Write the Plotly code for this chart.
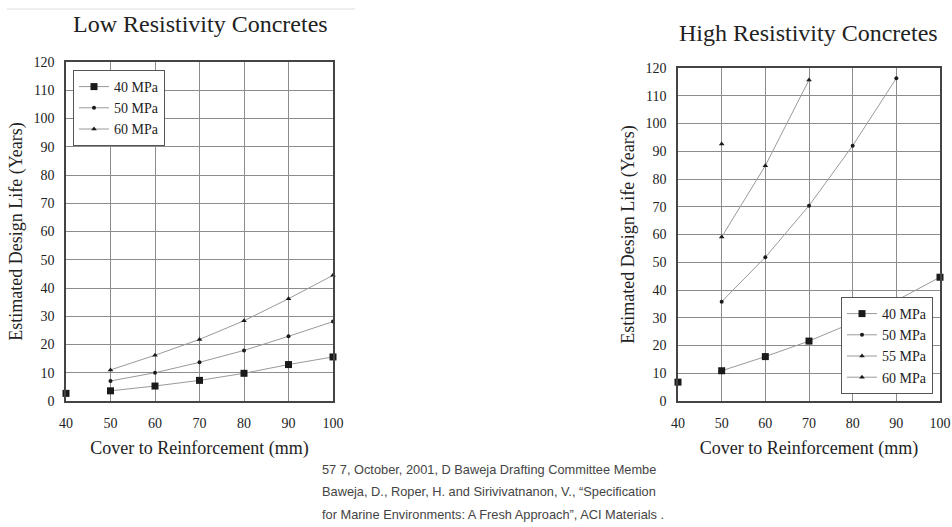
import plotly.graph_objects as go

# Cover depths (mm)
cover = [40, 50, 60, 70, 80, 90, 100]

# Low resistivity concretes: estimated design life (years)
low_40 = [2.7, 3.6, 5.3, 7.3, 9.8, 12.9, 15.6]
low_50 = [None, 7.1, 10.0, 13.7, 17.9, 22.9, 28.1]
low_60 = [None, 11.0, 16.2, 21.8, 28.4, 36.2, 44.5]

# High resistivity concretes: estimated design life (years)
high_40 = [6.8, 10.9, 16.0, 21.6, 28.2, 36.2, 44.6]
high_50 = [None, 35.8, 51.8, 70.4, 92.0, 116.3, None]
high_55 = [None, 59.1, 84.8, 115.7, None, None, None]
high_60 = [None, 92.6, None, None, None, None, None]

x_ticks = [40, 50, 60, 70, 80, 90, 100]
y_ticks = [0, 10, 20, 30, 40, 50, 60, 70, 80, 90, 100, 110, 120]

SERIF = "Liberation Serif"
LINE = "#9a9a9a"
INK = "#1a1a1a"

marker_style = {
    "40 MPa": dict(symbol="square", size=7),
    "50 MPa": dict(symbol="circle", size=4),
    "55 MPa": dict(symbol="triangle-up", size=5),
    "60 MPa": dict(symbol="triangle-up", size=5),
}

fig = go.Figure()


def add_series(name, ys, xaxis, yaxis, legend, first_alone=False):
    m = dict(color=INK, **marker_style[name])
    xs, vals = list(cover), list(ys)
    if first_alone:
        # the 40 mm point is plotted on its own, without a connecting line
        fig.add_trace(go.Scatter(
            x=xs[:1], y=vals[:1], mode="markers", marker=m,
            xaxis=xaxis, yaxis=yaxis, showlegend=False, legend=legend,
            cliponaxis=False, hoverinfo="skip"))
        xs, vals = xs[1:], vals[1:]
    fig.add_trace(go.Scatter(
        x=xs, y=vals, mode="lines+markers", name=name,
        line=dict(color=LINE, width=1), marker=m,
        xaxis=xaxis, yaxis=yaxis, legend=legend, cliponaxis=False))


add_series("40 MPa", low_40, "x", "y", "legend", first_alone=True)
add_series("50 MPa", low_50, "x", "y", "legend")
add_series("60 MPa", low_60, "x", "y", "legend")

add_series("40 MPa", high_40, "x2", "y2", "legend2", first_alone=True)
add_series("50 MPa", high_50, "x2", "y2", "legend2")
add_series("55 MPa", high_55, "x2", "y2", "legend2")
add_series("60 MPa", high_60, "x2", "y2", "legend2")

W, H = 952, 527


def px_x(v):
    return v / W


def px_y(v):
    return 1 - v / H


axis_common = dict(
    showgrid=True, gridcolor="#8c8c8c", gridwidth=1.3,
    showline=True, linecolor="#444", linewidth=1.6, mirror=True,
    zeroline=False, automargin=False,
    tickfont=dict(family=SERIF, size=14, color="#222"),
)

x_common = dict(axis_common, range=[40, 100], tickvals=x_ticks,
                ticks="outside", ticklen=8, tickcolor="rgba(0,0,0,0)",
                title=dict(text="Cover to Reinforcement (mm)",
                           font=dict(family=SERIF, size=18, color="#222"),
                           standoff=12))
y_common = dict(axis_common, range=[0, 120], tickvals=y_ticks,
                ticks="outside", ticklen=7, tickcolor="rgba(0,0,0,0)",
                title=dict(text="Estimated Design Life (Years)",
                           font=dict(family=SERIF, size=18, color="#222"),
                           standoff=6))

fig.update_layout(
    width=W, height=H,
    margin=dict(l=0, r=0, t=0, b=0, pad=0, autoexpand=False),
    font=dict(family=SERIF),
    paper_bgcolor="white", plot_bgcolor="white",
    xaxis=dict(x_common, domain=[px_x(66), px_x(333)], anchor="y"),
    yaxis=dict(y_common, domain=[px_y(401), px_y(62)], anchor="x"),
    xaxis2=dict(x_common, domain=[px_x(678), px_x(940)], anchor="y2"),
    yaxis2=dict(y_common, domain=[px_y(401), px_y(68)], anchor="x2"),
    legend=dict(x=px_x(73), y=px_y(70), xanchor="left", yanchor="top",
                bgcolor="white", bordercolor="#555", borderwidth=1,
                font=dict(family=SERIF, size=14, color="#222"),
                itemwidth=30, tracegroupgap=0),
    legend2=dict(x=px_x(933), y=px_y(297), xanchor="right", yanchor="top",
                 bgcolor="white", bordercolor="#555", borderwidth=1,
                 font=dict(family=SERIF, size=14, color="#222"),
                 itemwidth=30, tracegroupgap=0),
    showlegend=True,
)

# Panel titles
fig.add_annotation(x=px_x(200), y=px_y(24), xref="paper", yref="paper",
                   text="Low Resistivity Concretes", showarrow=False,
                   xanchor="center", yanchor="middle",
                   font=dict(family=SERIF, size=24, color="#222"))
fig.add_annotation(x=px_x(808), y=px_y(33), xref="paper", yref="paper",
                   text="High Resistivity Concretes", showarrow=False,
                   xanchor="center", yanchor="middle",
                   font=dict(family=SERIF, size=24, color="#222"))

# Thin rule above the left panel
fig.add_shape(type="line", xref="paper", yref="paper",
              x0=px_x(7), x1=px_x(355), y0=px_y(9), y1=px_y(9),
              line=dict(color="#dddddd", width=1))

# Reference text below the charts
ref_lines = [
    "57 7, October, 2001, D Baweja Drafting Committee Membe",
    "Baweja, D., Roper, H. and Sirivivatnanon, V., \u201cSpecification",
    "for Marine Environments: A Fresh Approach\u201d, ACI Materials .",
]
for i, line in enumerate(ref_lines):
    fig.add_annotation(x=px_x(320), y=px_y(469 + 22.5 * i), xref="paper",
                       yref="paper", text=line, showarrow=False,
                       xanchor="left", yanchor="middle",
                       font=dict(family="Liberation Sans", size=12.8,
                                 color="#444"))

fig.write_html("out.html")
